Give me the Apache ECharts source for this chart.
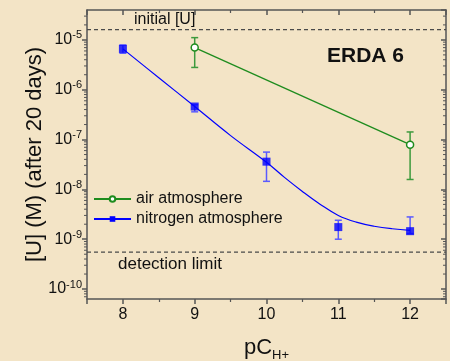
<!DOCTYPE html>
<html>
<head>
<meta charset="utf-8">
<script src="https://cdn.jsdelivr.net/npm/echarts@6/dist/echarts.min.js"></script>
<style>
html,body{margin:0;padding:0;background:#f3e4c6;}
#chart{width:450px;height:361px;}
</style>
</head>
<body>
<div id="chart"></div>
<script>
// ---- data ----
const pCH = [8, 9, 10, 11, 12];
const nitrogenU = [6.6e-6, 4.6e-7, 3.6e-8, 1.75e-9, 1.45e-9];
const nitrogenLow = [5.4e-6, 3.6e-7, 1.45e-8, 1.0e-9, 1.3e-9];
const nitrogenHigh = [7.9e-6, 5.0e-7, 5.6e-8, 2.4e-9, 2.8e-9];

const airX = [9, 12];
const airU = [7.0e-6, 7.9e-8];
const airLow = [2.8e-6, 1.58e-8];
const airHigh = [1.11e-5, 1.42e-7];

const fitX = [8, 8.5, 9, 9.5, 10, 10.25, 10.5, 10.75, 11, 11.25, 11.5, 11.75, 12];
const fitU = [6.6e-6, 1.74e-6, 4.6e-7, 1.2e-7, 3.5e-8, 1.74e-8, 9.1e-9, 5.0e-9, 3.0e-9, 2.2e-9, 1.82e-9, 1.62e-9, 1.51e-9];

const initialU = 1.6e-5;
const detectionLimit = 5.5e-10;

const xMin = 7.5, xMax = 12.5;
const yMin = 6.31e-11, yMax = 3.98e-5;

// minor tick positions of the log axis
const yMinorTicks = [
  7e-11, 8e-11, 9e-11,
  2e-10, 3e-10, 4e-10, 5e-10, 6e-10, 7e-10, 8e-10, 9e-10,
  2e-9, 3e-9, 4e-9, 5e-9, 6e-9, 7e-9, 8e-9, 9e-9,
  2e-8, 3e-8, 4e-8, 5e-8, 6e-8, 7e-8, 8e-8, 9e-8,
  2e-7, 3e-7, 4e-7, 5e-7, 6e-7, 7e-7, 8e-7, 9e-7,
  2e-6, 3e-6, 4e-6, 5e-6, 6e-6, 7e-6, 8e-6, 9e-6,
  2e-5, 3e-5
];

// ---- chart ----
const FONT = 'Liberation Sans, Arial, Helvetica, sans-serif';
const AXIS_COLOR = '#555';
const BLUE = '#0000ff';
const BLUE_ERR = '#5a5aff';
const GREEN = '#1e8c1e';
const GREEN_ERR = '#3d9a3d';

const chart = echarts.init(document.getElementById('chart'), null, {renderer: 'canvas'});

function errRender(color) {
  return function (params, api) {
    const x = api.value(0), lo = api.value(1), hi = api.value(2);
    const a = api.coord([x, hi]);
    const b = api.coord([x, lo]);
    const w = 3.5;
    const st = {stroke: color, lineWidth: 1.5};
    return {type: 'group', children: [
      {type: 'line', shape: {x1: a[0], y1: a[1], x2: b[0], y2: b[1]}, style: st},
      {type: 'line', shape: {x1: a[0]-w, y1: a[1], x2: a[0]+w, y2: a[1]}, style: st},
      {type: 'line', shape: {x1: b[0]-w, y1: b[1], x2: b[0]+w, y2: b[1]}, style: st}
    ]};
  };
}

function minorTickRender(params, api) {
  const v = api.value(1);
  const l = api.coord([xMin, v]);
  const r = api.coord([xMax, v]);
  const st = {stroke: AXIS_COLOR, lineWidth: 1};
  return {type: 'group', children: [
    {type: 'line', shape: {x1: l[0]-3, y1: l[1], x2: l[0], y2: l[1]}, style: st},
    {type: 'line', shape: {x1: r[0]-3, y1: r[1], x2: r[0], y2: r[1]}, style: st}
  ]};
}

function logLabel(v) {
  const e = Math.round(Math.log10(v));
  return '{b|10}{s|' + e + '}';
}

const baseX = {
  type: 'value', min: xMin, max: xMax, splitLine: {show: false},
  axisLine: {show: true, onZero: false, lineStyle: {color: AXIS_COLOR, width: 1.5}},
  minorTick: {show: true, splitNumber: 2, length: 3, lineStyle: {color: AXIS_COLOR, width: 1.2}},
  axisTick: {show: true, length: 5, lineStyle: {color: AXIS_COLOR, width: 1.5}}
};
const baseY = {
  type: 'log', logBase: 10, min: yMin, max: yMax, splitLine: {show: false},
  axisLine: {show: true, onZero: false, lineStyle: {color: AXIS_COLOR, width: 1.5}},
  minorTick: {show: false},
  axisTick: {show: true, length: 5, lineStyle: {color: AXIS_COLOR, width: 1.5}}
};

const option = {
  backgroundColor: '#f3e4c6',
  animation: false,
  textStyle: {fontFamily: FONT},
  grid: {left: 87, top: 10, right: 4, bottom: 62, containLabel: false, outerBoundsMode: 'none'},
  legend: {
    orient: 'vertical', left: 93, top: 191, itemGap: 4, padding: 0,
    itemWidth: 37, itemHeight: 7,
    textStyle: {fontSize: 16, color: '#111', fontFamily: FONT},
    data: ['air atmosphere', 'nitrogen atmosphere']
  },
  xAxis: [
    Object.assign({}, baseX, {
      position: 'bottom',
      name: '{a|pC}{b|H+}', nameLocation: 'middle', nameGap: 35, nameMoveOverlap: false,
      nameTextStyle: {rich: {
        a: {fontSize: 22, fontFamily: FONT, color: '#111', lineHeight: 28},
        b: {fontSize: 13, fontFamily: FONT, color: '#111', verticalAlign: 'bottom', lineHeight: 2}
      }},
      axisLabel: {fontSize: 16, color: '#111', margin: 8, showMinLabel: false, showMaxLabel: false, fontFamily: FONT}
    }),
    Object.assign({}, baseX, {
      position: 'top',
      axisLabel: {show: false},
      axisTick: Object.assign({}, baseX.axisTick, {inside: true}),
      minorTick: Object.assign({}, baseX.minorTick, {inside: true})
    })
  ],
  yAxis: [
    Object.assign({}, baseY, {
      position: 'left',
      name: '[U] (M) (after 20 days)', nameLocation: 'middle', nameGap: 41, nameMoveOverlap: false,
      nameTextStyle: {fontSize: 22, color: '#111', fontFamily: FONT},
      axisLabel: {
        margin: 5, showMinLabel: false, showMaxLabel: false,
        formatter: logLabel,
        rich: {
          b: {fontSize: 16, color: '#111', fontFamily: FONT, lineHeight: 20},
          s: {fontSize: 11, color: '#111', fontFamily: FONT, lineHeight: 11, verticalAlign: 'top'}
        }
      }
    }),
    Object.assign({}, baseY, {
      position: 'right',
      axisLabel: {show: false},
      axisTick: Object.assign({}, baseY.axisTick, {inside: true})
    })
  ],
  graphic: [
    {type: 'text', left: 327, top: 46, style: {text: 'ERDA 6', font: 'bold 21px ' + FONT, fill: '#111'}},
    {type: 'text', left: 134, top: 12, style: {text: 'initial [U]', font: '16px ' + FONT, fill: '#111'}},
    {type: 'text', left: 118, top: 256, style: {text: 'detection limit', font: '17px ' + FONT, fill: '#111'}}
  ],
  series: [
    {
      name: 'minor ticks', type: 'custom', renderItem: minorTickRender, clip: false, silent: true,
      encode: {x: 0, y: 1}, z: 1,
      data: yMinorTicks.map(v => [xMin, v])
    },
    {
      name: 'initial U line', type: 'line', silent: true, symbol: 'none', z: 1,
      data: [[xMin, initialU], [xMax, initialU]],
      lineStyle: {color: '#4a4a4a', type: [4, 3], width: 1.3}
    },
    {
      name: 'detection limit line', type: 'line', silent: true, symbol: 'none', z: 1,
      data: [[xMin, detectionLimit], [xMax, detectionLimit]],
      lineStyle: {color: '#4a4a4a', type: [4, 3], width: 1.3}
    },
    {
      name: 'air err', type: 'custom', renderItem: errRender(GREEN_ERR), z: 2,
      encode: {x: 0, y: [1, 2]},
      data: airX.map((x, i) => [x, airLow[i], airHigh[i]])
    },
    {
      name: 'nitrogen err', type: 'custom', renderItem: errRender(BLUE_ERR), z: 2,
      encode: {x: 0, y: [1, 2]},
      data: pCH.map((x, i) => [x, nitrogenLow[i], nitrogenHigh[i]])
    },
    {
      name: 'air atmosphere', type: 'line', z: 3,
      data: airX.map((x, i) => [x, airU[i]]),
      symbol: 'circle', symbolSize: 7, showSymbol: true,
      lineStyle: {color: GREEN, width: 1.3},
      itemStyle: {color: '#ffffff', borderColor: GREEN, borderWidth: 1.5}
    },
    {
      name: 'nitrogen atmosphere', type: 'line', z: 3, smooth: 0.4,
      data: fitX.map((x, i) => [x, fitU[i]]),
      symbol: 'rect', symbolSize: 7, showSymbol: false,
      lineStyle: {color: BLUE, width: 1.2},
      itemStyle: {color: BLUE}
    },
    {
      name: 'nitrogen points', type: 'scatter', z: 4,
      data: pCH.map((x, i) => [x, nitrogenU[i]]),
      symbol: 'rect', symbolSize: 8,
      itemStyle: {color: BLUE}
    }
  ]
};
chart.setOption(option);
</script>
</body>
</html>
